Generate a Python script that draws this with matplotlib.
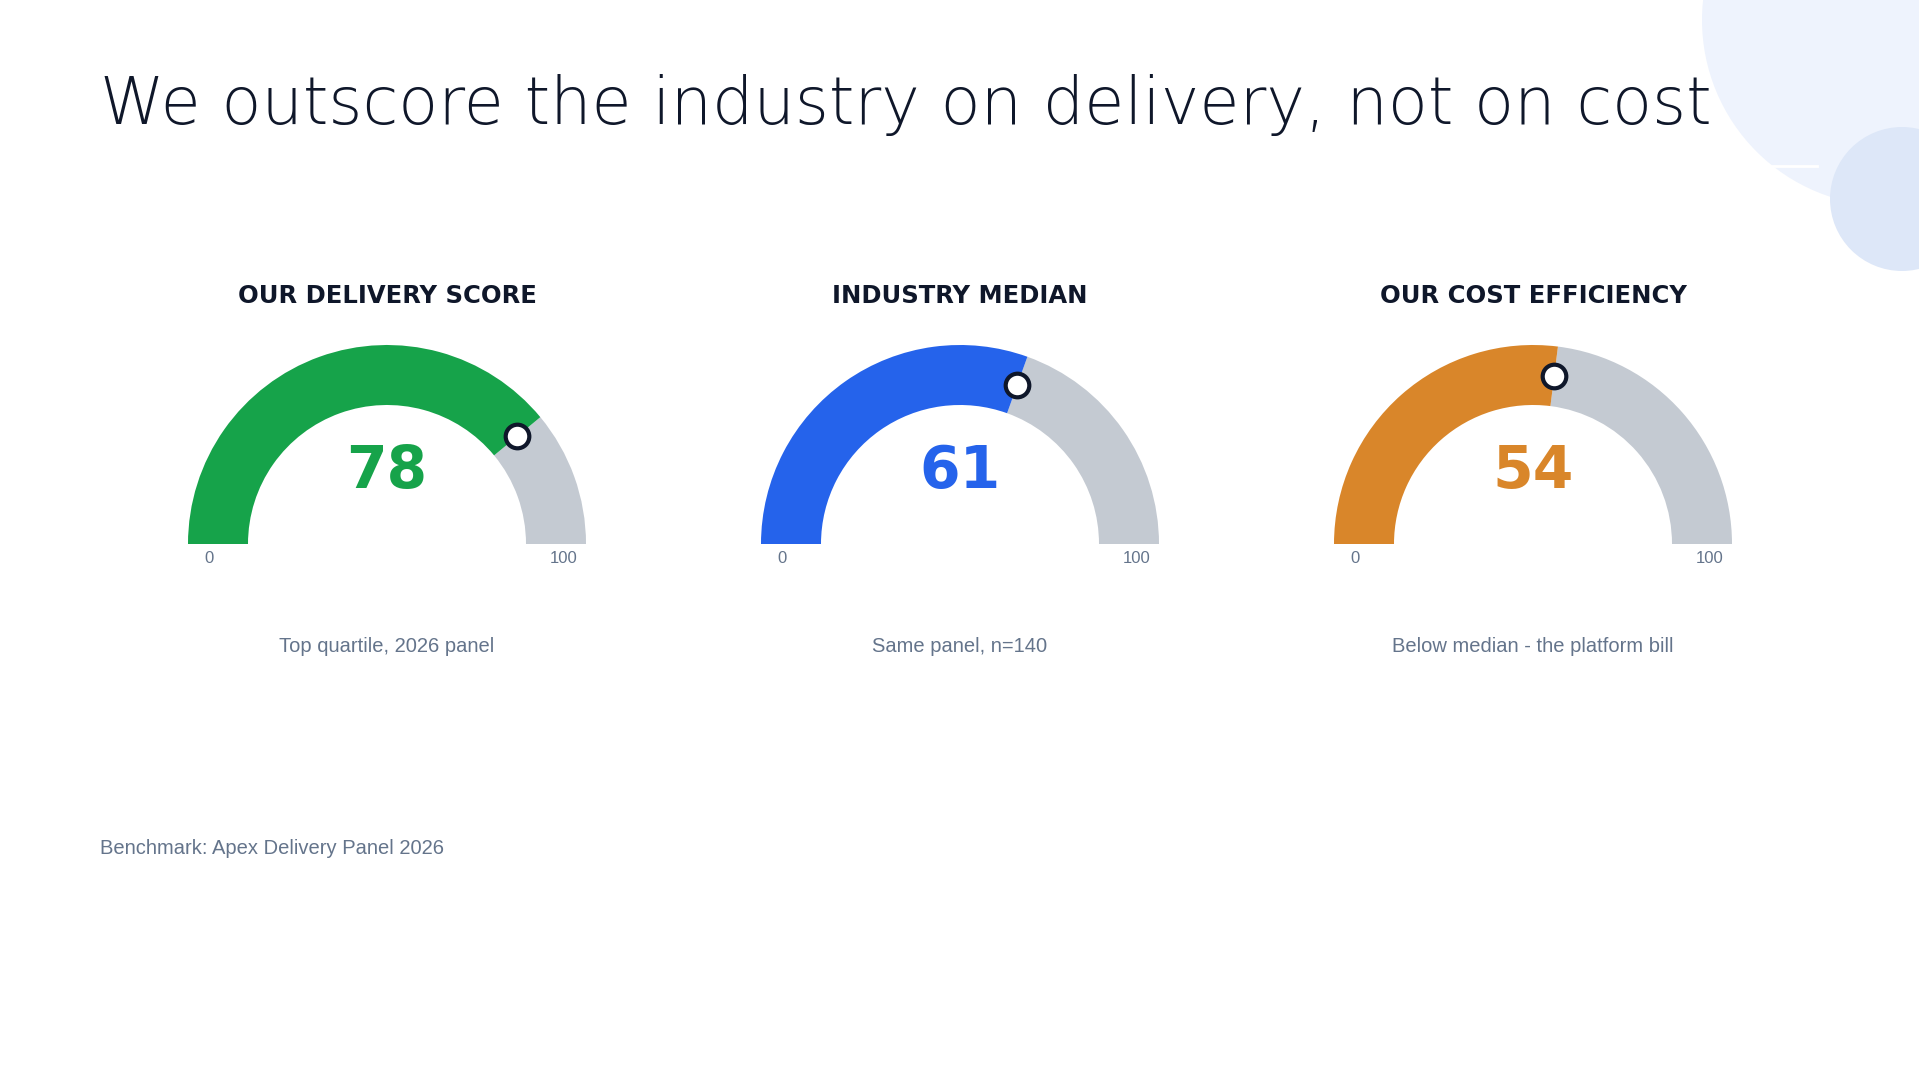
import matplotlib
matplotlib.use("Agg")
import matplotlib.pyplot as plt
from matplotlib.patches import Wedge, Circle
import numpy as np

# gauge data
titles = ["OUR DELIVERY SCORE", "INDUSTRY MEDIAN", "OUR COST EFFICIENCY"]
values = [78, 61, 54]
captions = ["Top quartile, 2026 panel", "Same panel, n=140", "Below median - the platform bill"]
colors = ["#16A34A", "#2563EB", "#D9862A"]
scale_min, scale_max = 0, 100

headline = "We outscore the industry on delivery, not on cost"
footnote = "Benchmark: Apex Delivery Panel 2026"

W, H = 1919, 1080
NAVY = "#0F172A"
SLATE = "#64748B"
TRACK = "#C4CAD2"

fig = plt.figure(figsize=(W / 100, H / 100), dpi=100)
ax = fig.add_axes([0, 0, 1, 1])
ax.set_xlim(0, W)
ax.set_ylim(0, H)
ax.set_aspect("equal")
ax.axis("off")


def y(px):
    # top-down pixel coordinate to axes coordinate
    return H - px


# background decoration, top right
ax.add_patch(Circle((1888, y(20)), 186, color="#EEF3FD", lw=0, zorder=0))
ax.add_patch(Circle((1902, y(199)), 72, color="#DDE7F8", lw=0, zorder=0))
ax.plot([1770, 1817], [y(166), y(166)], color="white", lw=2, zorder=1)

# light weight resolves to DejaVu Sans ExtraLight
ax.text(100, y(124), headline, fontsize=47, color=NAVY, family="DejaVu Sans",
        fontweight="light", va="baseline", ha="left")

centers = [387, 960, 1533]
cy = y(544)
r_out, r_in = 199, 139
r_mid = (r_out + r_in) / 2

for cx, t, v, cap, col in zip(centers, titles, values, captions, colors):
    frac = (v - scale_min) / (scale_max - scale_min)
    ang = 180 - frac * 180
    ax.add_patch(Wedge((cx, cy), r_out, 0, ang, width=r_out - r_in,
                       facecolor=TRACK, edgecolor="none", zorder=2))
    ax.add_patch(Wedge((cx, cy), r_out, ang, 180, width=r_out - r_in,
                       facecolor=col, edgecolor="none", zorder=3))
    mx = cx + r_mid * np.cos(np.radians(ang))
    my = cy + r_mid * np.sin(np.radians(ang))
    ax.plot(mx, my, "o", ms=17, mfc="white", mec=NAVY, mew=3, zorder=5)

    ax.text(cx, y(303), t, fontsize=17.5, fontweight="bold", color=NAVY,
            family="DejaVu Sans", ha="center", va="baseline")
    ax.text(cx, y(488), str(v), fontsize=42, fontweight="bold", color=col,
            family="DejaVu Sans", ha="center", va="baseline")
    ax.text(cx - 178, y(563), str(scale_min), fontsize=12, color=SLATE,
            family="Liberation Sans", ha="center", va="baseline")
    ax.text(cx + 177, y(563), str(scale_max), fontsize=12, color=SLATE,
            family="Liberation Sans", ha="center", va="baseline")
    ax.text(cx, y(652), cap, fontsize=14.5, color=SLATE,
            family="Liberation Sans", ha="center", va="baseline")

ax.text(100, y(854), footnote, fontsize=14.5, color=SLATE,
        family="Liberation Sans", ha="left", va="baseline")

fig.savefig("out.png", dpi=100, facecolor="white")
